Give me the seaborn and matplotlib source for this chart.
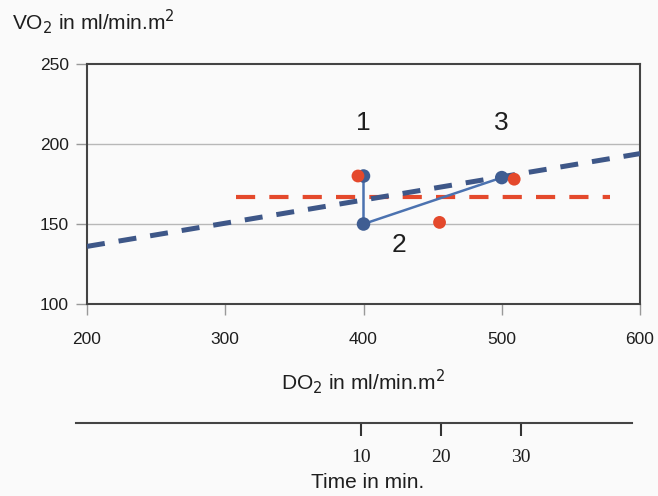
import matplotlib
matplotlib.use("Agg")
import matplotlib.pyplot as plt
import seaborn as sns
import pandas as pd

sns.set_theme(style="white")
plt.rcParams["font.family"] = ["Liberation Sans", "DejaVu Sans"]

# Measured points (DO2, VO2)
blue_do2 = [400, 400, 500]
blue_vo2 = [180, 150, 179]
red_do2 = [396, 455, 509]
red_vo2 = [180, 151, 178]

# Trend lines
trend_do2 = [200, 600]
trend_vo2 = [136, 194]
plateau_do2 = [308, 578]
plateau_vo2 = [167, 167]

# Point annotations
label_text = ["1", "2", "3"]
label_do2 = [400, 426, 500]
label_vo2 = [213, 137, 213]

# Time axis
time_ticks = [10, 20, 30]

x_ticks = [200, 300, 400, 500, 600]
y_ticks = [100, 150, 200, 250]

bg = "#fafafa"
blue_dot = "#3f5d92"
blue_dash = "#3e5788"
blue_line = "#4b72b0"
red = "#e4492c"
spine_col = "#444444"
txt = "#1e1e1e"

fig = plt.figure(figsize=(6.58, 4.96), dpi=100, facecolor=bg)
ax = fig.add_axes([87 / 658, 1 - 304 / 496, 553 / 658, 240 / 496])
ax.set_facecolor(bg)

blue_df = pd.DataFrame({"do2": blue_do2, "vo2": blue_vo2})
red_df = pd.DataFrame({"do2": red_do2, "vo2": red_vo2})
trend_df = pd.DataFrame({"do2": trend_do2, "vo2": trend_vo2})
plateau_df = pd.DataFrame({"do2": plateau_do2, "vo2": plateau_vo2})

for yv in [150, 200]:
    ax.axhline(yv, color="#b8b8b8", lw=1.0, zorder=0)

sns.lineplot(data=plateau_df, x="do2", y="vo2", ax=ax, color=red, lw=3.0,
             linestyle=(0, (4.6, 3.4)), sort=False, estimator=None, zorder=2)
sns.lineplot(data=trend_df, x="do2", y="vo2", ax=ax, color=blue_dash, lw=3.6,
             linestyle=(0, (3.6, 2.8)), sort=False, estimator=None, zorder=3)
sns.lineplot(data=blue_df, x="do2", y="vo2", ax=ax, color=blue_line, lw=1.8,
             sort=False, estimator=None, zorder=4)
sns.scatterplot(data=blue_df, x="do2", y="vo2", ax=ax, color=blue_dot, s=95,
                edgecolor="none", zorder=5)
sns.scatterplot(data=red_df, x="do2", y="vo2", ax=ax, color=red, s=85,
                edgecolor="none", zorder=6)

for t, xv, yv in zip(label_text, label_do2, label_vo2):
    ax.text(xv, yv, t, fontsize=19, ha="center", va="center", color=txt)

ax.set_xlim(200, 600)
ax.set_ylim(100, 250)
ax.set_xticks(x_ticks)
ax.set_yticks(y_ticks)
ax.tick_params(axis="both", direction="out", length=8, width=1, color="#999999",
               labelsize=12.5, labelcolor=txt, pad=5, bottom=True, left=True)
ax.tick_params(axis="x", pad=12)
for s in ax.spines.values():
    s.set_color(spine_col)
    s.set_linewidth(1.5)
ax.set_xlabel("DO$_2$ in ml/min.m$^2$", fontsize=15, color=txt, labelpad=15)
ax.set_ylabel("")
fig.text(12 / 658, 1 - 22 / 496, "VO$_2$ in ml/min.m$^2$", fontsize=15,
         color=txt, ha="left", va="center")

# Secondary time axis below the chart
tax = fig.add_axes([76 / 658, 1 - 423 / 496, 556 / 658, 0.0001])
tax.set_facecolor("none")
tax.set_xlim(-25.6, 43.9)
tax.set_yticks([])
tax.set_xticks(time_ticks)
tax.set_xticklabels([str(t) for t in time_ticks], family=["Liberation Serif"],
                    fontsize=14, color=txt)
tax.tick_params(axis="x", direction="out", length=9, width=1.5, color="#333333",
                pad=10, bottom=True)
for side in ["top", "left", "right"]:
    tax.spines[side].set_visible(False)
tax.spines["bottom"].set_color(spine_col)
tax.spines["bottom"].set_linewidth(1.5)
fig.text(368 / 658, 1 - 483 / 496, "Time in min.", fontsize=15, color=txt,
         ha="center", va="center")

fig.savefig("out.png", dpi=100, facecolor=bg)
